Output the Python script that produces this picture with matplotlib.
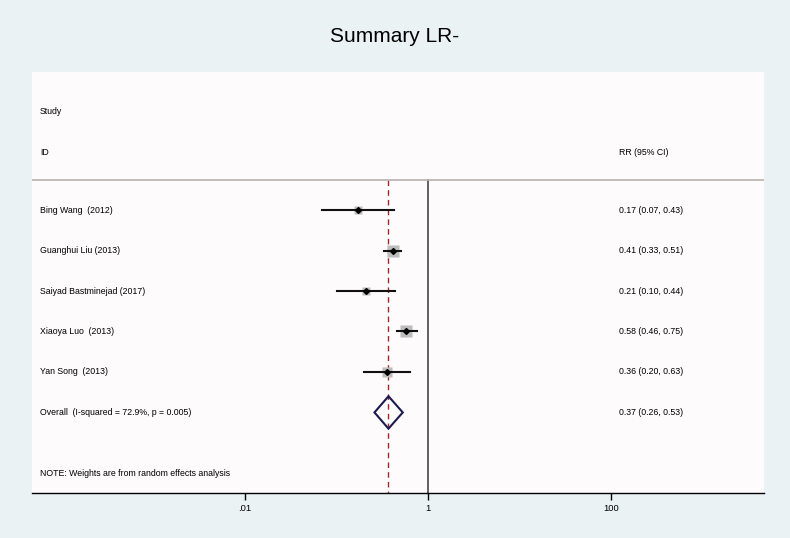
import numpy as np
import matplotlib
matplotlib.use("Agg")
import matplotlib.pyplot as plt
import matplotlib.transforms as mtransforms

plt.rcParams['font.family'] = ['Liberation Sans', 'DejaVu Sans']

# data
studies = ["Bing Wang  (2012)", "Guanghui Liu (2013)", "Saiyad Bastminejad (2017)",
           "Xiaoya Luo  (2013)", "Yan Song  (2013)"]
rr = [0.17, 0.41, 0.21, 0.58, 0.36]
lo = [0.07, 0.33, 0.10, 0.46, 0.20]
hi = [0.43, 0.51, 0.44, 0.75, 0.63]
weights = [13, 26, 15, 25, 21]   # estimated from square sizes (%)
overall = (0.37, 0.26, 0.53)
overall_label = "Overall  (I-squared = 72.9%, p = 0.005)"
note = "NOTE: Weights are from random effects analysis"
xticks = [0.01, 1, 100]
xticklabels = [".01", "1", "100"]

fig = plt.figure(figsize=(7.9, 5.38), dpi=100)
fig.patch.set_facecolor('#EAF2F3')
ax = fig.add_axes([32/790, 1 - 493/538, 732/790, 421/538])
ax.set_facecolor('#FDFBFC')
ax.set_xscale('log')
ax.set_xlim(10**(-396/91.5), 10**(336/91.5))
ax.set_ylim(6.99, -3.41)

for s in ['top', 'left', 'right']:
    ax.spines[s].set_visible(False)
ax.spines['bottom'].set_color('black')
ax.spines['bottom'].set_linewidth(1.0)
ax.set_yticks([])
ax.set_xticks(xticks)
ax.set_xticklabels(xticklabels, fontsize=6.8)
ax.minorticks_off()
ax.tick_params(axis='x', length=5, width=1.0, pad=3)

trans = mtransforms.blended_transform_factory(ax.transAxes, ax.transData)
fs = 6.3

# header
ax.text(0.011, -2.43, "Study", transform=trans, fontsize=fs, va='center')
ax.text(0.011, -1.43, "ID", transform=trans, fontsize=fs, va='center')
ax.text(0.802, -1.43, "RR (95% CI)", transform=trans, fontsize=fs, va='center')
ax.plot([0, 1], [-0.74, -0.74], transform=trans, color='#b8b0ae', lw=1.2)

# reference lines
ax.plot([1, 1], [-0.74, 6.99], color='#555555', lw=1.3, zorder=1)
ax.plot([overall[0]] * 2, [-0.74, 6.99], color='#a0282a', lw=1.0,
        ls=(0, (4, 3)), zorder=1)

for i in range(len(studies)):
    ax.plot(rr[i], i, marker='s', ms=1.6 * np.sqrt(weights[i]),
            color='#bdbdbd', mec='none', zorder=2)
    ax.plot([lo[i], hi[i]], [i, i], color='#111111', lw=1.5, zorder=3)
    ax.plot(rr[i], i, marker='D', ms=3, color='black', zorder=4)
    ax.text(0.011, i, studies[i], transform=trans, fontsize=fs, va='center')
    ax.text(0.802, i, "%.2f (%.2f, %.2f)" % (rr[i], lo[i], hi[i]),
            transform=trans, fontsize=fs, va='center')

# overall diamond
est, l, h = overall
ax.fill([l, est, h, est, l], [5, 4.6, 5, 5.4, 5], facecolor='none',
        edgecolor='#1a1a50', lw=1.5, zorder=5)
ax.text(0.011, 5, overall_label, transform=trans, fontsize=fs, va='center')
ax.text(0.802, 5, "%.2f (%.2f, %.2f)" % overall, transform=trans,
        fontsize=fs, va='center')
ax.text(0.011, 6.5, note, transform=trans, fontsize=fs, va='center')

fig.text(0.5, 1 - 36/538, "Summary LR-", ha='center', va='center', fontsize=15)

fig.savefig("out.png", dpi=100, facecolor=fig.get_facecolor())
